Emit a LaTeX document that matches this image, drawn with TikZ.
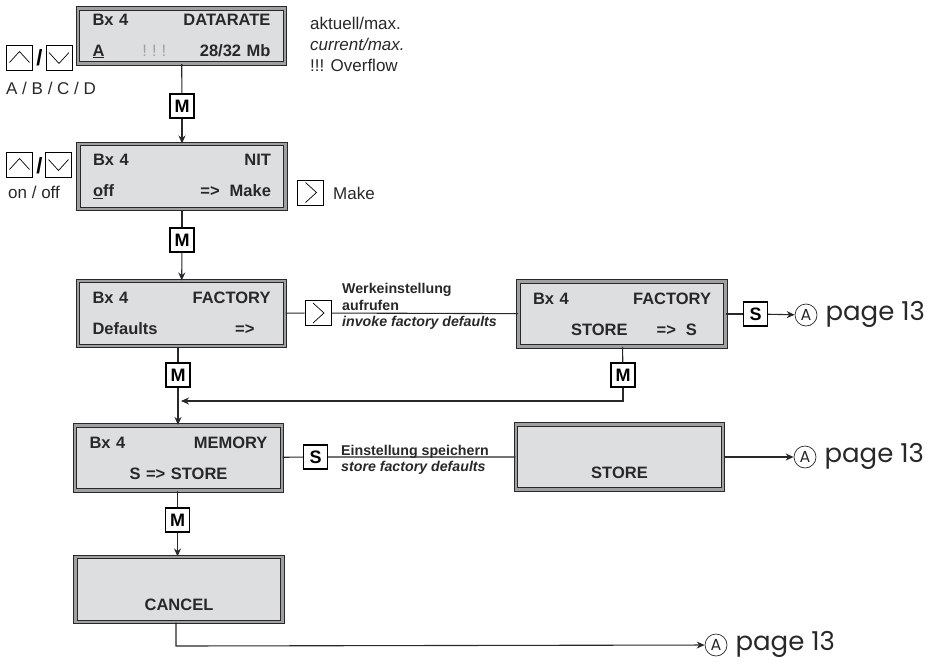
\documentclass[tikz,border=0pt]{standalone}
\usepackage{fontspec}
\setmainfont{Liberation Sans}
\newfontfamily\pagefont{Poppins}
\usetikzlibrary{arrows.meta}
\definecolor{lcdgray}{RGB}{221,222,224}
\definecolor{rimgray}{RGB}{160,160,162}
\definecolor{inkgray}{RGB}{40,40,40}
\tikzset{
  lcdbox/.style={draw=inkgray, line width=1.1pt, double=rimgray, double distance=2.6pt,
    fill=lcdgray, minimum width=207pt, minimum height=65pt, inner sep=0pt,
    text width=178pt, align=left, text=inkgray, font=\bfseries\fontsize{16.5}{31}\selectfont},
  btn/.style={draw=black, line width=1.1pt, fill=white, minimum size=24pt, inner sep=0pt,
    font=\bfseries\fontsize{18}{18}\selectfont},
  navbtn/.style={draw=black, line width=0.9pt, fill=white, minimum width=26pt,
    minimum height=25pt, inner sep=0pt},
  upbtn/.style={navbtn, path picture={\draw[line width=0.7pt]
    ([shift={(-10pt,-5pt)}]path picture bounding box.center) --
    ([shift={(0pt,6pt)}]path picture bounding box.center) --
    ([shift={(10pt,-5pt)}]path picture bounding box.center);}},
  downbtn/.style={navbtn, path picture={\draw[line width=0.7pt]
    ([shift={(-10pt,5pt)}]path picture bounding box.center) --
    ([shift={(0pt,-6pt)}]path picture bounding box.center) --
    ([shift={(10pt,5pt)}]path picture bounding box.center);}},
  rightbtn/.style={navbtn, path picture={\draw[line width=0.7pt]
    ([shift={(-5pt,10pt)}]path picture bounding box.center) --
    ([shift={(6pt,0pt)}]path picture bounding box.center) --
    ([shift={(-5pt,-10pt)}]path picture bounding box.center);}},
  wire/.style={draw=inkgray, line width=1.1pt},
  note/.style={inner sep=0pt, align=left, text=inkgray, font=\fontsize{17}{21}\selectfont},
  tagtext/.style={inner sep=0pt, anchor=base west, text=inkgray, font=\bfseries\fontsize{14.2}{16.5}\selectfont},
  refmark/.style={circle, draw=inkgray, line width=0.7pt, minimum size=22pt, inner sep=0pt,
    text=inkgray, font=\pagefont\fontsize{16}{16}\selectfont},
  pagetxt/.style={inner sep=0pt, anchor=base west, text=inkgray, font=\pagefont\fontsize{26}{28}\selectfont}
}
\begin{document}
\begin{tikzpicture}[x=1pt, y=-1pt, >={Stealth[length=8pt,width=7pt]}]
\useasboundingbox (0,0) rectangle (937,667);

% displays
\node[lcdbox, minimum height=55pt] (datarate) at (181.5,36)
  {Bx 4\hfill DATARATE\\ \underline{A}\hspace*{38pt}{\mdseries\color{rimgray}!\hspace{5pt}!\hspace{5pt}!}\hfill 28/32 Mb};
\node[lcdbox] (nit) at (182,176.5) {Bx 4\hfill NIT\\ \underline{o}ff\hfill =>\hspace{10pt}Make};
\node[lcdbox] (factory) at (181.5,313.5) {Bx 4\hfill FACTORY\\ Defaults\hfill =>\hspace*{16pt}};
\node[lcdbox] (confirm) at (622,314) {Bx 4\hfill FACTORY\\ \hspace*{38pt}STORE\hfill =>\hspace{10pt}S\hspace*{14pt}};
\node[lcdbox] (memory) at (178.5,458) {Bx 4\hfill MEMORY\\ \hspace*{\fill}S => STORE\hfill\null};
\node[lcdbox, align=center] (store) at (619.5,457) {\vphantom{B}\\ STORE};
\node[lcdbox, align=center] (cancel) at (179,589.5) {\vphantom{B}\\ CANCEL};

% keys
\node[btn] (m1) at (182,106) {M};
\node[btn] (m2) at (182,240) {M};
\node[btn] (m3) at (178,375) {M};
\node[btn] (m4) at (623,375) {M};
\node[btn] (m5) at (177.5,520) {M};
\node[btn] (s1) at (755.5,314) {S};
\node[btn] (s2) at (315.5,457) {S};
\node[rightbtn] (go1) at (310.5,192.5) {};
\node[rightbtn] (go2) at (318,313) {};
\node[upbtn] (up1) at (19.5,57.5) {};
\node[downbtn] (down1) at (59,57.5) {};
\node[font=\bfseries\fontsize{22}{22}\selectfont, inner sep=0pt] (or1) at (39.5,58) {/};
\node[upbtn] (up2) at (19.5,164.5) {};
\node[downbtn] (down2) at (58.5,164.5) {};
\node[font=\bfseries\fontsize{22}{22}\selectfont, inner sep=0pt] (or2) at (39.5,166) {/};

% texts
\node[note, anchor=west] (abcd) at (6,88) {A / B / C / D};
\node[note, anchor=west] (onoff) at (8,192) {on / off};
\node[note, anchor=west] (make) at (333,193) {Make};
\node[note, anchor=north west] (legend) at (310,17) {aktuell/max.\\ \textit{current/max.}\\ !!! Overflow};
\node[tagtext] (recall) at (342,293) {Werkeinstellung};
\node[tagtext] (recall2) at (342,310) {aufrufen};
\node[tagtext] (recall3) at (342,326) {\itshape invoke factory defaults};
\node[tagtext] (save) at (341,455) {Einstellung speichern};
\node[tagtext] (save2) at (341,471) {\itshape store factory defaults};

% page references
\node[refmark] (ref1) at (806,315) {A};
\node[pagetxt] (page1) at ([xshift=8pt,yshift=-5.5pt]ref1.east) {page 13};
\node[refmark] (ref2) at (805,457) {A};
\node[pagetxt] (page2) at ([xshift=8pt,yshift=-5.5pt]ref2.east) {page 13};
\node[refmark] (ref3) at (716,645) {A};
\node[pagetxt] (page3) at ([xshift=8pt,yshift=-5.5pt]ref3.east) {page 13};

% connectors
\draw[wire] (datarate) -- (m1);
\draw[wire,->] (m1) -- (nit);
\draw[wire] (nit) -- (m2);
\draw[wire,->] (m2) -- (factory);
\draw[wire] (factory) -- (go2) -- (confirm);
\draw[wire] (confirm) -- (s1);
\draw[wire,->] (s1) -- (ref1);
\draw[wire] (confirm) -- (m4);
\draw[wire] (factory.south -| m3) -- (m3);
\draw[wire,->] (m3) -- (m3 |- memory.north);
\coordinate (merge) at (181,401);
\draw[wire,->] (m4) |- (merge);
\draw[wire] (memory) -- (s2) -- (store);
\draw[wire,->] (store) -- (ref2);
\draw[wire] (memory.south -| m5) -- (m5);
\draw[wire,->] (m5) -- (m5 |- cancel.north);
\coordinate (bend) at (176,646);
\draw[wire,->] (cancel.south -| bend) -- (bend) -- (ref3);

\end{tikzpicture}
\end{document}
